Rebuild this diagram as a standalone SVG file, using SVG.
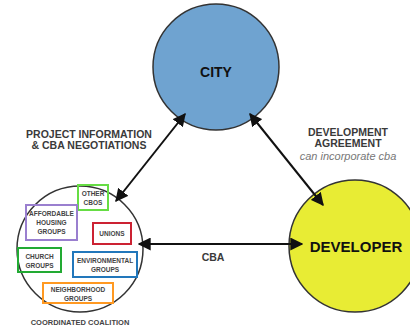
<svg xmlns="http://www.w3.org/2000/svg" width="410" height="330" viewBox="0 0 410 330">
<style>
.lbl{font-family:"Liberation Sans",Arial,sans-serif;font-weight:bold;fill:#3a3a3a;text-anchor:middle;font-size:10.5px}
.sm{font-family:"Liberation Sans",Arial,sans-serif;font-weight:bold;fill:#444;text-anchor:middle;font-size:6.5px}
.box{fill:none;stroke-width:2}
.conn{stroke:#111;stroke-width:2;fill:none;marker-start:url(#ah);marker-end:url(#ah)}
</style>
<defs>
<marker id="ah" viewBox="0 0 10 10" refX="9" refY="5" markerWidth="6.5" markerHeight="6.5" orient="auto-start-reverse" markerUnits="strokeWidth">
<path d="M0,0 L10,5 L0,10 z" fill="#111"/>
</marker>
</defs>
<rect width="410" height="330" fill="#fff"/>
<g id="city">
<circle cx="216" cy="67" r="63" fill="#6fa3d0" stroke="#333" stroke-width="1.5"/>
<text class="lbl" x="216" y="77" style="font-size:14px;fill:#111">CITY</text>
</g>
<g id="developer">
<circle cx="355" cy="246" r="66" fill="#e8ec34" stroke="#333" stroke-width="1.5"/>
<text class="lbl" x="356" y="252" style="font-size:15px;fill:#111">DEVELOPER</text>
</g>
<g id="coalition">
<circle cx="80" cy="249" r="63" fill="#fff" stroke="#333" stroke-width="1.5"/>
<text class="sm" x="80" y="325" style="font-size:7.5px">COORDINATED COALITION</text>
<g id="other-cbos">
<rect class="box" x="78" y="185" width="30" height="25" stroke="#66dd44"/>
<text class="sm" x="93" y="196">OTHER</text>
<text class="sm" x="93" y="205">CBOS</text>
</g>
<g id="affordable-housing">
<rect class="box" x="26" y="205" width="51" height="35" stroke="#9a7fcf"/>
<text class="sm" x="51.5" y="216">AFFORDABLE</text>
<text class="sm" x="51.5" y="225">HOUSING</text>
<text class="sm" x="51.5" y="234">GROUPS</text>
</g>
<g id="unions">
<rect class="box" x="93" y="223" width="38" height="21" stroke="#cc2233"/>
<text class="sm" x="112" y="236">UNIONS</text>
</g>
<g id="church">
<rect class="box" x="18" y="248" width="43" height="24" stroke="#22aa33"/>
<text class="sm" x="39.5" y="258.5">CHURCH</text>
<text class="sm" x="39.5" y="267.5">GROUPS</text>
</g>
<g id="environmental">
<rect class="box" x="73" y="252" width="64" height="25" stroke="#2277bb"/>
<text class="sm" x="105" y="262.5">ENVIRONMENTAL</text>
<text class="sm" x="105" y="271.5">GROUPS</text>
</g>
<g id="neighborhood">
<rect class="box" x="43" y="283" width="70" height="20" stroke="#ff9922"/>
<text class="sm" x="78" y="292">NEIGHBORHOOD</text>
<text class="sm" x="78" y="300.5">GROUPS</text>
</g>
</g>
<g id="connectors">
<line class="conn" x1="116" y1="201" x2="185" y2="114"/>
<line class="conn" x1="250" y1="114" x2="323" y2="205"/>
<line class="conn" x1="139" y1="244" x2="302" y2="244"/>
</g>
<g id="labels">
<text class="lbl" x="89" y="137.5">PROJECT INFORMATION</text>
<text class="lbl" x="89" y="149">&amp; CBA NEGOTIATIONS</text>
<text class="lbl" x="348" y="135.5">DEVELOPMENT</text>
<text class="lbl" x="348" y="147">AGREEMENT</text>
<text class="lbl" x="348" y="160" style="font-size:11px;font-weight:normal;font-style:italic;fill:#777">can incorporate cba</text>
<text class="lbl" x="213" y="261">CBA</text>
</g>
</svg>
